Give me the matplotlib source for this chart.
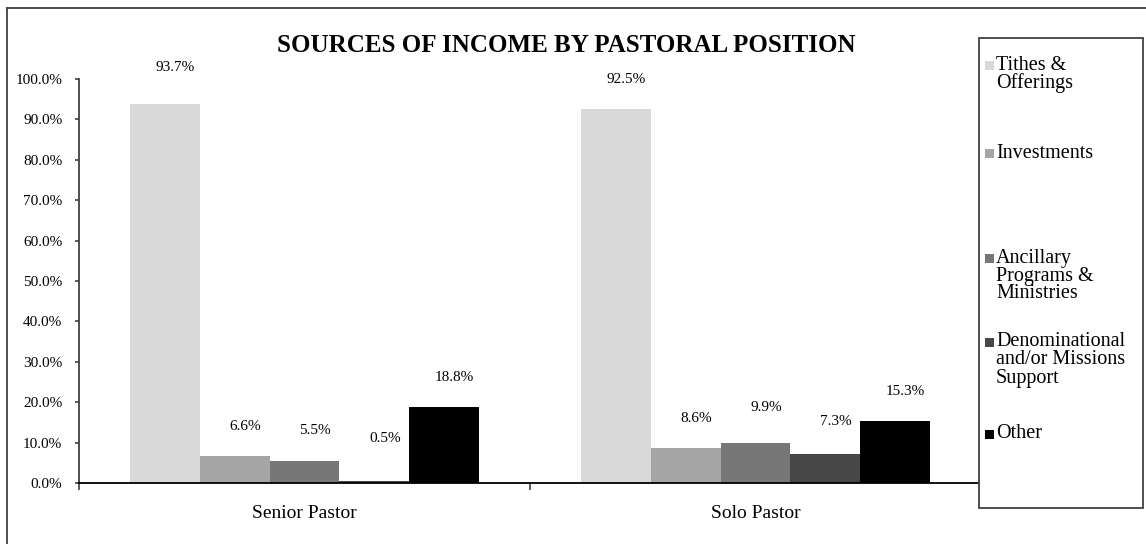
import numpy as np
import matplotlib.pyplot as plt
from matplotlib.patches import Rectangle
from matplotlib.lines import Line2D

plt.rcParams['font.family'] = ['Liberation Serif', 'DejaVu Serif']

positions = ["Senior Pastor", "Solo Pastor"]
sources = ["Tithes &\nOfferings", "Investments", "Ancillary\nPrograms &\nMinistries",
           "Denominational\nand/or Missions\nSupport", "Other"]
tithes = [93.7, 92.5]
investments = [6.6, 8.6]
ancillary = [5.5, 9.9]
denominational = [0.5, 7.3]
other = [18.8, 15.3]
series = [tithes, investments, ancillary, denominational, other]
colors = ["#d9d9d9", "#a5a5a5", "#777777", "#474747", "#000000"]

# extra lift (px) for a few value labels
label_nudge = [[7, 0, 0, 13, 0], [0, 0, 6, 2, 0]]

W, H = 1146, 544
fig = plt.figure(figsize=(W / 100, H / 100), dpi=100)

def fx(px):
    return px / W

def fy(py):
    return 1 - py / H

ax = fig.add_axes([fx(79), fy(483), fx(981) - fx(79), fy(79) - fy(483)])

x = np.arange(len(positions))
w = 0.155
for i, vals in enumerate(series):
    bars = ax.bar(x + (i - 2) * w, vals, w, color=colors[i], zorder=2)
    for j, b in enumerate(bars):
        ax.annotate(f"{vals[j]:.1f}%", (b.get_x() + b.get_width() / 2, b.get_height()),
                    xytext=(7.5, 21.5 + label_nudge[j][i] * 0.72), textcoords="offset points",
                    ha="center", va="center", fontsize=11)

ax.set_xlim(-0.5, 1.5)
ax.set_ylim(0, 100)
ax.set_yticks(np.arange(0, 101, 10))
ax.set_yticklabels([f"{t:.1f}%" for t in np.arange(0, 101, 10)], fontsize=11)
ax.set_xticks(x)
ax.set_xticklabels(positions, fontsize=14)
ax.set_xticks([-0.5, 0.5, 1.5], minor=True)
ax.tick_params(axis="x", which="major", length=0, pad=16)
ax.tick_params(axis="x", which="minor", length=5, width=1.2, color="#404040")
ax.tick_params(axis="y", length=3, width=1.2, color="#404040", pad=9)

for s in ["top", "right"]:
    ax.spines[s].set_visible(False)
ax.spines["left"].set_color("#404040")
ax.spines["left"].set_linewidth(1.3)
ax.spines["bottom"].set_color("#000000")
ax.spines["bottom"].set_linewidth(1.3)

fig.text(fx(566), fy(45), "SOURCES OF INCOME BY PASTORAL POSITION",
         ha="center", va="center", fontsize=18, fontweight="bold")

# outer chart frame, only top and left edges fall inside the image
fig.add_artist(Line2D([fx(7), fx(7)], [fy(8), 0], transform=fig.transFigure,
                      color="#404040", lw=1.3))
fig.add_artist(Line2D([fx(7), 1], [fy(8), fy(8)], transform=fig.transFigure,
                      color="#404040", lw=1.3))

# legend box with stacked entries
fig.add_artist(Rectangle((fx(979), fy(508)), fx(1143) - fx(979), fy(38) - fy(508),
                         transform=fig.transFigure, facecolor="white",
                         edgecolor="#404040", lw=1.3, zorder=5))
entry_y = [65, 153, 258, 342, 434]
for name, c, y0 in zip(sources, colors, entry_y):
    fig.add_artist(Rectangle((fx(985), fy(y0 + 5)), fx(9), fy(0) - fy(9),
                             transform=fig.transFigure, facecolor=c,
                             edgecolor="none", zorder=6))
    for k, line in enumerate(name.split("\n")):
        fig.text(fx(996), fy(y0 + 18 * k), line, ha="left", va="center",
                 fontsize=14.5, zorder=6)

fig.savefig("out.png", dpi=100)
